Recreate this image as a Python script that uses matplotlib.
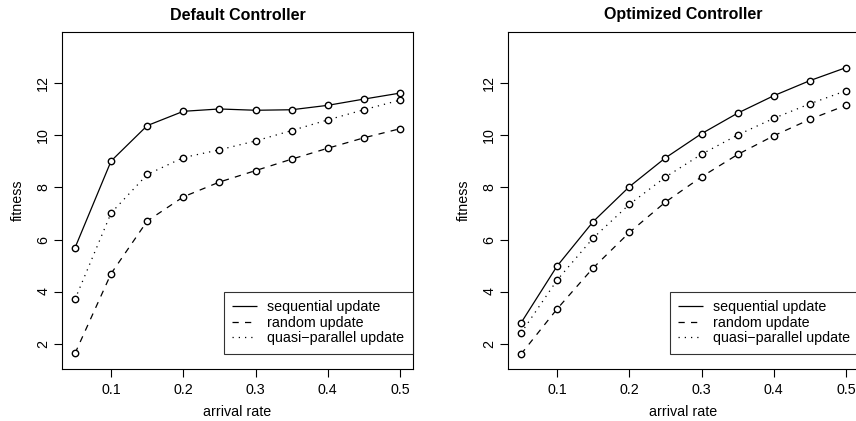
import matplotlib
matplotlib.use("Agg")
import matplotlib.pyplot as plt

plt.rcParams['font.family'] = ['Liberation Sans', 'DejaVu Sans']

rate = [0.05, 0.1, 0.15, 0.2, 0.25, 0.3, 0.35, 0.4, 0.45, 0.5]

# default controller
def_seq = [5.68, 9.02, 10.38, 10.93, 11.02, 10.97, 10.99, 11.16, 11.40, 11.63]
def_rand = [1.62, 4.69, 6.71, 7.64, 8.21, 8.65, 9.09, 9.51, 9.91, 10.26]
def_quasi = [3.70, 7.02, 8.50, 9.15, 9.45, 9.79, 10.19, 10.60, 10.99, 11.36]

# optimized controller
opt_seq = [2.79, 4.98, 6.69, 8.03, 9.14, 10.07, 10.86, 11.53, 12.11, 12.61]
opt_rand = [1.59, 3.33, 4.91, 6.27, 7.44, 8.41, 9.27, 9.99, 10.62, 11.16]
opt_quasi = [2.40, 4.44, 6.06, 7.35, 8.40, 9.28, 10.02, 10.66, 11.22, 11.72]

titles = ["Default Controller", "Optimized Controller"]
labels = ["sequential update", "random update", "quasi\u2212parallel update"]
xticks = [0.1, 0.2, 0.3, 0.4, 0.5]
yticks = [2, 4, 6, 8, 10, 12]

styles = [(0, ()), (0, (5, 5)), (0, (1, 4))]

fig = plt.figure(figsize=(8.56, 4.21), dpi=100)
lefts = [62 / 856, 508 / 856]
panels = [(def_seq, def_rand, def_quasi), (opt_seq, opt_rand, opt_quasi)]

for i in range(2):
    ax = fig.add_axes([lefts[i], 52 / 421, 351 / 856, 337 / 421])
    for vals, ls, lab in zip(panels[i], styles, labels):
        ax.plot(rate, vals, color='black', linewidth=0.9, linestyle=ls,
                marker='o', markersize=4.6, markerfacecolor='white',
                markeredgecolor='black', markeredgewidth=1.0, label=lab)
    ax.set_xlim(0.032, 0.518)
    ax.set_ylim(1.02, 13.98)
    ax.set_xticks(xticks)
    ax.set_xticklabels([str(t) for t in xticks])
    ax.set_yticks(yticks)
    ax.set_yticklabels([str(t) for t in yticks], rotation=90, va='center')
    ax.tick_params(direction='out', length=6, width=0.8, labelsize=10.3)
    ax.tick_params(axis='y', pad=2.5)
    ax.tick_params(axis='x', pad=4)
    for sp in ax.spines.values():
        sp.set_linewidth(0.8)
    ax.set_xlabel("arrival rate", fontsize=10.3, labelpad=6)
    ax.set_ylabel("fitness", fontsize=10.3)
    ax.yaxis.set_label_coords(-37 / 351, 0.5)
    ax.set_title(titles[i], fontsize=11.5, fontweight='bold', pad=9)
    leg = ax.legend(loc='lower right', bbox_to_anchor=(1.0, 0.045),
                    fontsize=10.3, frameon=True, fancybox=False,
                    edgecolor='black', handlelength=1.7, handletextpad=0.75,
                    borderpad=0.6, labelspacing=0.1, borderaxespad=0)
    leg.get_frame().set_linewidth(0.8)
    for h in leg.legend_handles:
        h.set_marker('')

fig.savefig("out.png", dpi=100)
